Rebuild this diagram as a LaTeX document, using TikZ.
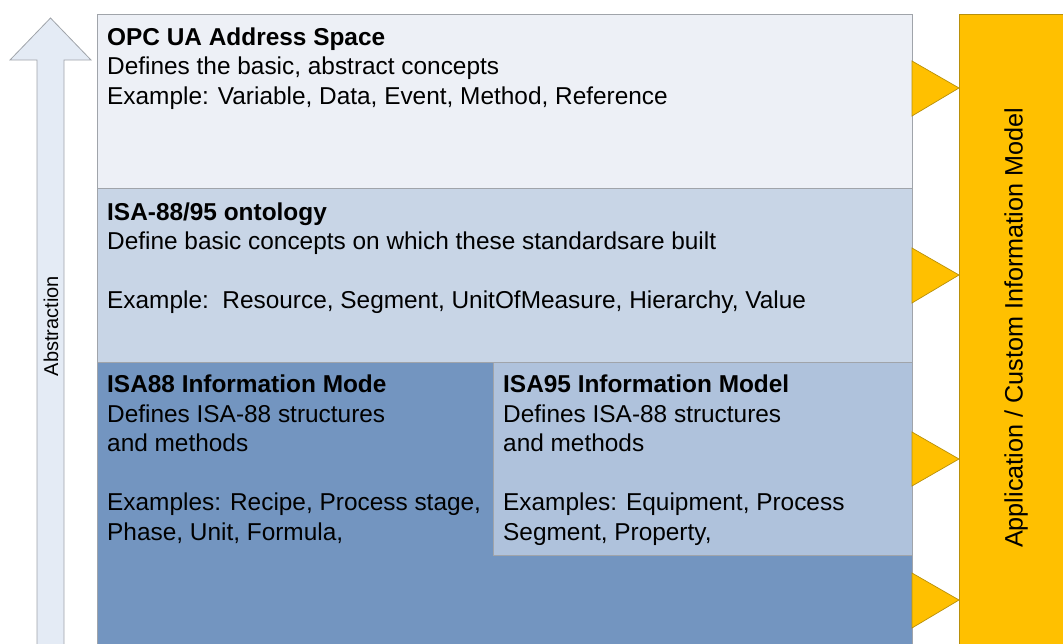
\documentclass[tikz,border=0pt]{standalone}
\usepackage{fontspec}
\setmainfont{Liberation Sans}

\definecolor{edgegray}{HTML}{A0A4AA}
\definecolor{pale}{HTML}{EDF0F6}
\definecolor{ontoblue}{HTML}{C8D5E6}
\definecolor{deepblue}{HTML}{7395C0}
\definecolor{midblue}{HTML}{AFC2DC}
\definecolor{arrowfill}{HTML}{E4EBF5}
\definecolor{appgold}{HTML}{FFC000}
\definecolor{golddark}{HTML}{B8900A}

\def\lsep{29.5pt}

\tikzset{
  layer/.style={draw=edgegray,line width=0.8pt,anchor=north west,inner sep=0pt},
  blurb/.style={anchor=north west,inner sep=0pt,align=left,
    font=\fontsize{24.4}{\lsep}\selectfont},
  pointer/.style={fill=appgold,draw=golddark,line width=0.7pt,line join=miter}
}

\begin{document}
\begin{tikzpicture}[x=1pt,y=-1pt]
    \useasboundingbox (0,0) rectangle (1063,643);

    % abstraction arrow
    \draw[draw=edgegray,fill=arrowfill,line width=0.8pt]
      (37,650) -- (37,60) -- (10,60) -- (50.5,18) -- (91,60) -- (64,60) -- (64,650);
    \node[rotate=90,font=\fontsize{20}{24}\selectfont] (abstr) at (51,326) {Abstraction};

    % layers
    \node[layer,fill=pale,minimum width=815pt,minimum height=174pt] (opc) at (97,14) {};
    \node[layer,fill=ontoblue,minimum width=815pt,minimum height=174pt] (onto) at (97,188) {};
    \node[layer,fill=deepblue,minimum width=815pt,minimum height=290pt] (isa88) at (97,362) {};
    \node[layer,fill=midblue,minimum width=419pt,minimum height=193pt] (isa95) at (493,362) {};

    \node[blurb] (opc text) at (107,27.5) {\textbf{OPC UA Address Space}\\
      Defines the basic, abstract concepts\\
      Example: Variable, Data, Event, Method, Reference};
    \node[blurb] (onto text) at (107,202.5) {\textbf{ISA-88/95 ontology}\\
      Define basic concepts on which these standardsare built\\[\lsep]
      Example:\ \ Resource, Segment, UnitOfMeasure, Hierarchy, Value};
    \node[blurb] (isa88 text) at (107,375) {\textbf{ISA88 Information Mode}\\
      Defines ISA-88 structures\\
      and methods\\[\lsep]
      Examples: Recipe, Process stage,\\
      Phase, Unit, Formula,};
    \node[blurb] (isa95 text) at (503,375) {\textbf{ISA95 Information Model}\\
      Defines ISA-88 structures\\
      and methods\\[\lsep]
      Examples: Equipment, Process\\
      Segment, Property,};

    % application bar
    \node[layer,fill=appgold,draw=golddark,minimum width=110pt,minimum height=640pt] (app) at (959,14) {};
    \node[rotate=90,font=\fontsize{25.2}{29}\selectfont] (app text) at (1016,328) {Application / Custom Information Model};

    % pointers into the bar
    \draw[pointer] (912,61) -- (app.west |- 0,88) -- (912,116) -- cycle;
    \draw[pointer] (912,248) -- (app.west |- 0,275) -- (912,303) -- cycle;
    \draw[pointer] (912,432) -- (app.west |- 0,459) -- (912,486) -- cycle;
    \draw[pointer] (912,573) -- (app.west |- 0,600) -- (912,628) -- cycle;
\end{tikzpicture}
\end{document}
